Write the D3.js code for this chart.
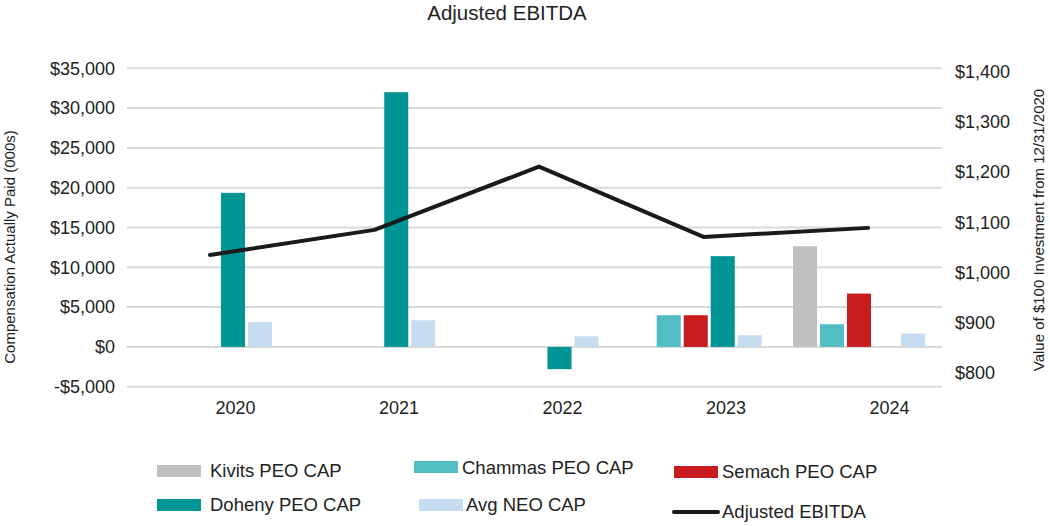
<!DOCTYPE html>
<html><head><meta charset="utf-8">
<script src="https://cdn.jsdelivr.net/npm/d3@7"></script>
<style>
body{margin:0;background:#fff;}
svg{font-family:"Liberation Sans",Arial,sans-serif;}
</style></head>
<body><svg id="c" width="1050" height="526"></svg>
<script>
const years = ["2020","2021","2022","2023","2024"];
const seriesNames = ["Kivits PEO CAP","Chammas PEO CAP","Semach PEO CAP","Doheny PEO CAP","Avg NEO CAP"];
const seriesColors = ["#bfc0bf","#52bec4","#c81c1e","#009494","#c6dcf0"];
const kivits  = [null, null, null, null, 12650];
const chammas = [null, null, null, 3980, 2850];
const semach  = [null, null, null, 3980, 6700];
const doheny  = [19350, 32000, -2800, 11400, null];
const avgNeo  = [3140, 3350, 1340, 1470, 1680];
const ebitda  = [1035, 1085, 1211, 1071, 1089];
const leftTicks = [-5000,0,5000,10000,15000,20000,25000,30000,35000];
const rightTicks = [800,900,1000,1100,1200,1300,1400];

const seriesValues = [kivits, chammas, semach, doheny, avgNeo];
const svg = d3.select("#c");

const yL = d3.scaleLinear().domain([-5000,35000]).range([386.7,68.3]);
const yR = d3.scaleLinear().domain([800,1400]).range([373,71.7]);
const x0 = d3.scaleBand().domain(years).range([124.4,940.6]).paddingInner(0.173).paddingOuter(0.0865);
const x1 = d3.scaleBand().domain(seriesNames).range([0,x0.bandwidth()]).paddingInner(0.11).paddingOuter(0.055);
const xLine = d3.scalePoint().domain(years).range([210,868]);
const xLab = d3.scalePoint().domain(years).range([235,889]);

// gridlines
svg.append("g").selectAll("line").data(leftTicks).join("line")
  .attr("x1",127).attr("x2",942).attr("y1",d=>yL(d)).attr("y2",d=>yL(d))
  .attr("stroke","#d9d9d9").attr("stroke-width",2);

// left axis
const la = svg.append("g").attr("transform","translate(127,0)")
  .call(d3.axisLeft(yL).tickValues(leftTicks).tickSize(0).tickPadding(12)
    .tickFormat(d=> (d<0?"-$":"$")+d3.format(",")(Math.abs(d))));
la.select(".domain").remove();
la.selectAll("text").attr("font-size",18).attr("fill","#222").attr("font-family","Liberation Sans, Arial, sans-serif");

// right axis
const ra = svg.append("g").attr("transform","translate(942,0)")
  .call(d3.axisRight(yR).tickValues(rightTicks).tickSize(0).tickPadding(13)
    .tickFormat(d=>"$"+d3.format(",")(d)));
ra.select(".domain").remove();
ra.selectAll("text").attr("font-size",18).attr("fill","#222").attr("font-family","Liberation Sans, Arial, sans-serif");

// x axis labels
const xa = svg.append("g").attr("transform","translate(0,408)")
  .call(d3.axisBottom(xLab).tickSize(0).tickPadding(0));
xa.select(".domain").remove();
xa.selectAll("text").attr("font-size",18).attr("fill","#222").attr("dy","0.32em").attr("font-family","Liberation Sans, Arial, sans-serif");

// bars
const barData = [];
years.forEach((yr,i)=>seriesNames.forEach((s,j)=>{
  const v = seriesValues[j][i];
  if(v!==null) barData.push({yr,s,v,c:seriesColors[j]});
}));
svg.append("g").selectAll("rect").data(barData).join("rect")
  .attr("x",d=>x0(d.yr)+x1(d.s)).attr("width",x1.bandwidth())
  .attr("y",d=>yL(Math.max(0,d.v))).attr("height",d=>Math.abs(yL(d.v)-yL(0)))
  .attr("fill",d=>d.c);

// line
svg.append("path").datum(ebitda)
  .attr("d",d3.line().x((d,i)=>xLine(years[i])).y(d=>yR(d)))
  .attr("fill","none").attr("stroke","#1a1a1a").attr("stroke-width",4)
  .attr("stroke-linecap","round").attr("stroke-linejoin","round");

// title
svg.append("text").attr("x",507).attr("y",13).attr("dy","0.35em").attr("text-anchor","middle")
  .attr("font-size",20.5).attr("fill","#222").text("Adjusted EBITDA");

// axis titles
svg.append("text").attr("transform","translate(10,247) rotate(-90)").attr("dy","0.35em")
  .attr("text-anchor","middle").attr("font-size",15).attr("fill","#222")
  .text("Compensation Actually Paid (000s)");
svg.append("text").attr("transform","translate(1039,230) rotate(-90)").attr("dy","0.35em")
  .attr("text-anchor","middle").attr("font-size",15).attr("fill","#222")
  .text("Value of $100 Investment from 12/31/2020");

// legend
const legendItems = [
  {name:"Kivits PEO CAP", c:seriesColors[0], sx:157, sy:471, tx:210, ty:471, type:"rect"},
  {name:"Chammas PEO CAP", c:seriesColors[1], sx:414, sy:467, tx:462, ty:468, type:"rect"},
  {name:"Semach PEO CAP", c:seriesColors[2], sx:674, sy:472, tx:722, ty:472, type:"rect"},
  {name:"Doheny PEO CAP", c:seriesColors[3], sx:157, sy:505, tx:210, ty:505, type:"rect"},
  {name:"Avg NEO CAP", c:seriesColors[4], sx:419, sy:505, tx:466, ty:505, type:"rect"},
  {name:"Adjusted EBITDA", c:"#1a1a1a", sx:674, sy:512, tx:722, ty:512, type:"line"}
];
const lg = svg.append("g");
legendItems.forEach(it=>{
  if(it.type==="rect"){
    lg.append("rect").attr("x",it.sx).attr("y",it.sy-6).attr("width",44).attr("height",12).attr("fill",it.c);
  } else {
    lg.append("line").attr("x1",it.sx).attr("x2",it.sx+44).attr("y1",it.sy).attr("y2",it.sy)
      .attr("stroke",it.c).attr("stroke-width",4).attr("stroke-linecap","round");
  }
  lg.append("text").attr("x",it.tx).attr("y",it.ty).attr("dy","0.35em").attr("font-size",18.5)
    .attr("fill","#222").text(it.name);
});
</script></body></html>
